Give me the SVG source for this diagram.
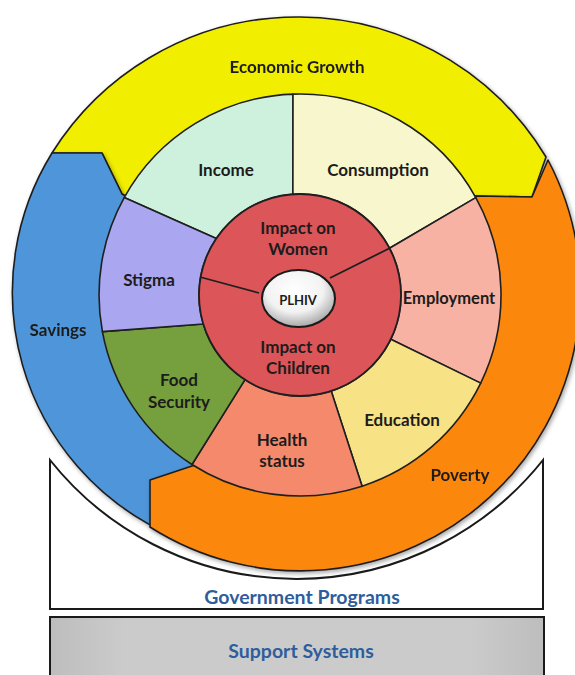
<svg xmlns="http://www.w3.org/2000/svg" width="575" height="675" viewBox="0 0 575 675">
<defs>
<filter id="sh" x="-10%" y="-10%" width="120%" height="120%">
<feDropShadow dx="1.5" dy="2" stdDeviation="2" flood-color="#000" flood-opacity="0.35"/>
</filter>
<radialGradient id="plhivG" cx="45%" cy="35%" r="65%">
<stop offset="0" stop-color="#ffffff"/>
<stop offset="0.6" stop-color="#f2f2f2"/>
<stop offset="1" stop-color="#a8a8a8"/>
</radialGradient>
<linearGradient id="grayG" x1="0" y1="0" x2="1" y2="0">
<stop offset="0" stop-color="#bdbdbd"/>
<stop offset="0.15" stop-color="#cbcbcb"/>
<stop offset="0.85" stop-color="#cbcbcb"/>
<stop offset="1" stop-color="#bdbdbd"/>
</linearGradient>
</defs>
<style>
.seg{stroke:#1f1f1f;stroke-width:1.6;stroke-linejoin:round}
.outer{stroke:#1f1f1f;stroke-width:1.6;stroke-linejoin:round}
.lbl{font-family:Lato,"Open Sans","Liberation Sans",sans-serif;font-weight:bold;font-size:17px;fill:#1c1c1c;text-anchor:middle}
.blue{font-family:Lato,"Open Sans","Liberation Sans",sans-serif;font-weight:bold;font-size:19.5px;fill:#2f5d9c;text-anchor:middle}
.div{stroke:#1f1f1f;stroke-width:1.8;fill:none}
</style>
<rect width="575" height="675" fill="#ffffff"/>

<g id="government-programs">
<path d="M50,460 L50,609 L543,609 L543,460 A315,315 0 0,1 50,460 Z" fill="#ffffff" stroke="#1a1a1a" stroke-width="2"/>
<text class="blue" x="302" y="604">Government Programs</text>
</g>

<g id="support-systems">
<rect x="50" y="617" width="494" height="70" fill="url(#grayG)" stroke="#1a1a1a" stroke-width="2"/>
<text class="blue" x="301" y="658">Support Systems</text>
</g>

<g id="economic-growth" filter="url(#sh)">
<path class="outer" fill="#f2ee00" d="M52,153 A290,290 0 0,1 546,157 L532,197 L475,196 L300,295 L122,194 L102,153 Z"/>
<text class="lbl" x="297" y="73">Economic Growth</text>
</g>

<g id="savings" filter="url(#sh)">
<path class="outer" fill="#4f95d9" d="M52,153 L102,153 L122,194 L300,295 L195,465 L160,530 A265,265 0 0,1 52,153 Z"/>
<text class="lbl" x="58" y="336">Savings</text>
</g>

<g id="poverty" filter="url(#sh)">
<path class="outer" fill="#fb8711" d="M150,480 L195,465 L300,295 L475,196 L532,197 L548,160 A280,280 0 0,1 150,527 Z"/>
<text class="lbl" x="460" y="481">Poverty</text>
</g>

<g id="income">
<path class="seg" fill="#cdf1dc" d="M216.3,238.5 L124.2,197.6 A201,201 0 0,1 293,94.1 L292.9,194.2 A101,101 0 0,0 216.3,238.5 Z"/>
<text class="lbl" x="226" y="176">Income</text>
</g>

<g id="consumption">
<path class="seg" fill="#f8f6cc" d="M292.9,194.2 L293,94.1 A201,201 0 0,1 475.8,197.6 L389.5,248.2 A101,101 0 0,0 292.9,194.2 Z"/>
<text class="lbl" x="378" y="176">Consumption</text>
</g>

<g id="employment">
<path class="seg" fill="#f7b2a3" d="M389.5,248.2 L475.8,197.6 A201,201 0 0,1 480.7,383.1 L390.8,339.3 A101,101 0 0,0 389.5,248.2 Z"/>
<text class="lbl" x="449" y="304" style="font-size:16.5px">Employment</text>
</g>

<g id="education">
<path class="seg" fill="#f8e286" d="M390.8,339.3 L480.7,383.1 A201,201 0 0,1 362.1,486.2 L331.2,391.1 A101,101 0 0,0 390.8,339.3 Z"/>
<text class="lbl" x="402" y="426">Education</text>
</g>

<g id="health-status">
<path class="seg" fill="#f4896c" d="M331.2,391.1 L362.1,486.2 A201,201 0 0,1 192,464.5 L245,379.7 A101,101 0 0,0 331.2,391.1 Z"/>
<text class="lbl" x="282" y="446">Health</text>
<text class="lbl" x="282" y="467">status</text>
</g>

<g id="food-security">
<path class="seg" fill="#76a03d" d="M245,379.7 L192,464.5 A201,201 0 0,1 102.4,331.6 L203.3,324 A101,101 0 0,0 245,379.7 Z"/>
<text class="lbl" x="179" y="386">Food</text>
<text class="lbl" x="179" y="408">Security</text>
</g>

<g id="stigma">
<path class="seg" fill="#aaa6f0" d="M203.3,324 L102.4,331.6 A201,201 0 0,1 124.2,197.6 L216.3,238.5 A101,101 0 0,0 203.3,324 Z"/>
<text class="lbl" x="149" y="286">Stigma</text>
</g>

<g id="impact">
<circle cx="300" cy="295" r="101" fill="#dc5558" stroke="#1f1f1f" stroke-width="1.8"/>
<text class="lbl" x="298" y="234">Impact on</text>
<text class="lbl" x="298" y="255">Women</text>
<text class="lbl" x="298" y="353">Impact on</text>
<text class="lbl" x="298" y="374">Children</text>
</g>

<g id="connectors">
<line class="div" x1="330" y1="278" x2="390" y2="248"/>
<line class="div" x1="259" y1="293" x2="200" y2="277"/>
</g>

<g id="plhiv">
<ellipse cx="298.5" cy="298.5" rx="36.5" ry="28.5" fill="url(#plhivG)" stroke="#1a1a1a" stroke-width="2"/>
<text class="lbl" x="298" y="305" style="font-size:13px">PLHIV</text>
</g>
</svg>
